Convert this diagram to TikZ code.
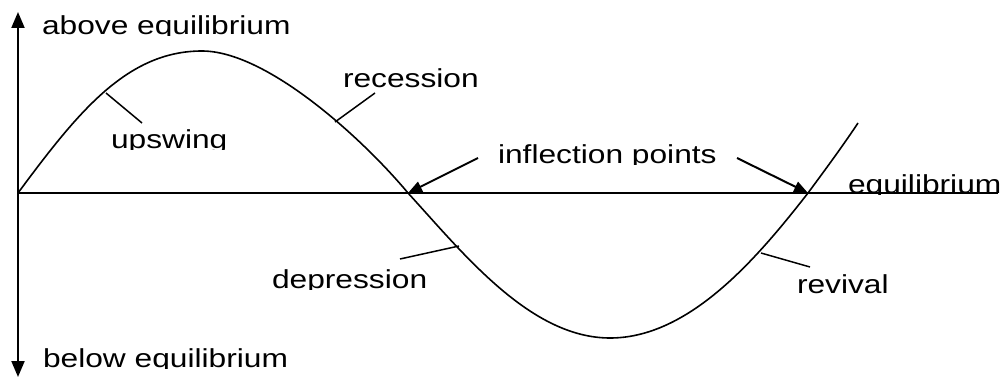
\documentclass[tikz,border=0pt]{standalone}
\usepackage{fontspec}
\setmainfont{Liberation Sans}
\usetikzlibrary{arrows.meta}
\tikzset{
  lab/.style={anchor=base west, inner sep=0pt, outer sep=0pt, font=\fontsize{26}{30}\selectfont},
  axisline/.style={line width=2pt},
  axisarrow/.style={line width=2pt, -{Triangle[length=16pt,width=13pt]}},
  curveline/.style={line width=1.6pt, line join=round},
  leader/.style={line width=1.5pt},
  pointer/.style={line width=2pt, -{Triangle[length=14pt,width=11pt]}},
}
\newcommand\clab[4]{\begin{scope}\clip (0,#3+1) rectangle (1000,#3-40);
  \node[lab] (#1) at (#2,#3) {\scalebox{1.22}[1]{#4}};\end{scope}}
\begin{document}
\begin{tikzpicture}[x=1pt,y=-1pt]
\useasboundingbox (0,0) rectangle (1000,377);
% axes
\coordinate (o) at (18,193);
\coordinate (top) at (18,12);
\coordinate (bot) at (18,377);
\coordinate (right) at (998,193);
\draw[axisarrow] (o) -- (top);
\draw[axisarrow] (o) -- (bot);
\draw[line width=1.8pt] (o) -- (right);
% curve
\coordinate (peak) at (202,51);
\coordinate (i1) at (408,193);
\coordinate (trough) at (610,338);
\coordinate (i2) at (808,193);
\coordinate (end) at (858,123);
\draw[curveline] (o) .. controls (78,112) and (127,51) .. (peak)
  .. controls (267,51) and (363,139) .. (i1)
  .. controls (463,253) and (530,338) .. (trough)
  .. controls (690,338) and (758,257) .. (i2)
  .. controls (825,170) and (842,147) .. (end);
% labels
\clab{above}{42}{35}{above equilibrium}
\clab{below}{43}{367}{below equilibrium}
\clab{rec}{343}{88}{recession}
\clab{up}{111}{148}{upswing}
\clab{infl}{498}{163}{inflection points}
\clab{eq}{848}{193}{equilibrium}
\clab{dep}{272}{288}{depression}
\clab{rev}{797}{293}{revival}
% leaders
\coordinate (upc) at (106,93);
\coordinate (upl) at (142,123);
\draw[leader] (upl) -- (upc);
\coordinate (recc) at (335,122);
\coordinate (recl) at (375,93);
\draw[leader] (recl) -- (recc);
\coordinate (depc) at (459,246);
\coordinate (depl) at (400,259);
\draw[leader] (depl) -- (depc);
\coordinate (revc) at (761,253);
\coordinate (revl) at (810,267);
\draw[leader] (revl) -- (revc);
% inflection pointers
\coordinate (p1) at (478,158);
\coordinate (p2) at (737,158);
\draw[pointer] (p1) -- (i1);
\draw[pointer] (p2) -- (i2);
\end{tikzpicture}
\end{document}
